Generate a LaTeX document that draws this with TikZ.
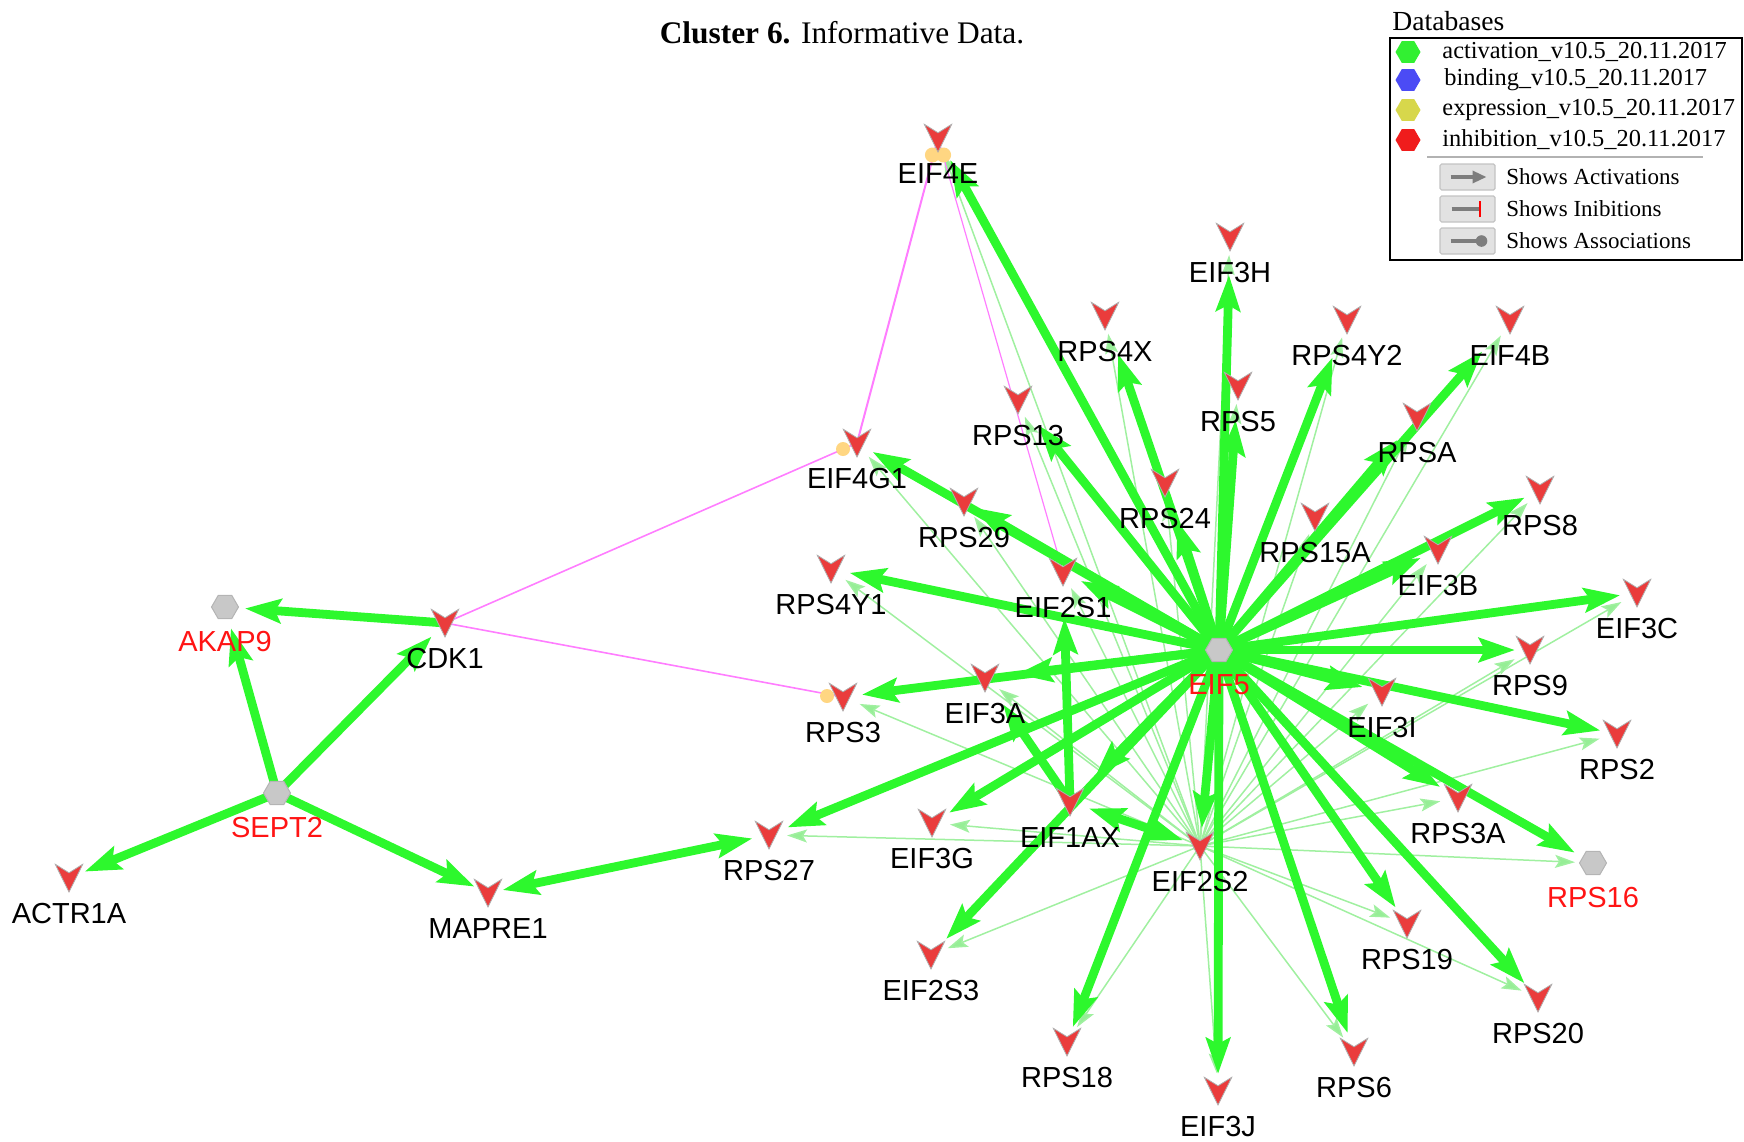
\documentclass[tikz,border=0pt]{standalone}
\usepackage{fontspec}
\setmainfont{Liberation Serif}
\newfontfamily\arialf{Liberation Sans}
\usetikzlibrary{shapes.geometric,arrows.meta}
\definecolor{thickg}{RGB}{45,248,45}
\definecolor{thing}{RGB}{160,240,160}
\definecolor{thinhead}{RGB}{150,238,150}
\definecolor{chevred}{RGB}{234,60,60}
\definecolor{chevline}{RGB}{175,175,175}
\definecolor{hexfill}{RGB}{200,200,200}
\definecolor{hexline}{RGB}{180,180,180}
\definecolor{pinkl}{RGB}{255,125,255}
\definecolor{orangedot}{RGB}{255,214,130}
\definecolor{lblred}{RGB}{255,20,20}
\definecolor{lgreen}{RGB}{50,240,50}
\definecolor{lblue}{RGB}{75,75,245}
\definecolor{lyellow}{RGB}{215,215,75}
\definecolor{lred}{RGB}{240,28,28}
\definecolor{iconfill}{RGB}{226,226,226}
\definecolor{iconline}{RGB}{195,195,195}
\definecolor{icongray}{RGB}{125,125,125}
\pgfdeclarelayer{edges}
\pgfsetlayers{edges,main}
\begin{document}
\begin{tikzpicture}[x=0.5pt,y=-0.5pt,
  lbl/.style={font=\arialf\fontsize{14.5}{16}\selectfont, inner sep=0pt, anchor=center, label distance=10.5pt},
  gene/.style={rectangle, inner sep=0pt, minimum width=14.4pt, minimum height=14.4pt,
     path picture={\fill[chevred, draw=chevline, line width=0.4pt]
        ([shift={(-6.9pt,6.9pt)}]path picture bounding box.center) --
        ([shift={(0pt,2.6pt)}]path picture bounding box.center) --
        ([shift={(6.9pt,6.9pt)}]path picture bounding box.center) --
        ([shift={(0pt,-7pt)}]path picture bounding box.center) -- cycle;},
     label={[lbl]below:#1}},
  hub/.style={regular polygon, regular polygon sides=6, minimum size=13.5pt, inner sep=0pt,
     fill=hexfill, draw=hexline, line width=0.5pt,
     label={[lbl, text=lblred, label distance=11pt]below:#1}},
  thickedge/.style={draw=thickg, line width=4.4pt, -{Stealth[length=18pt,width=12pt,inset=3pt]}, shorten >=#1},
  thickedge/.default=10pt,
  bothedge/.style={draw=thickg, line width=4.4pt, {Stealth[length=18pt,width=12pt,inset=3pt]}-{Stealth[length=18pt,width=12pt,inset=3pt]}},
  thinedge/.style={draw=thing, line width=0.75pt, -{Stealth[length=10pt,width=6.5pt,inset=2pt,fill=thinhead]}, shorten >=#1},
  thinedge/.default=9pt,
  pinkedge/.style={draw=pinkl, line width=#1},
  pinkedge/.default=1pt,
  assoc/.style={circle, fill=orangedot, inner sep=0pt, minimum size=#1},
  assoc/.default=7pt,
  leghex/.style={regular polygon, regular polygon sides=6, minimum size=12.5pt, inner sep=0pt, draw=none},
  legtext/.style={anchor=west, inner sep=0pt, font=\fontsize{12.2}{14}\selectfont},
  showtext/.style={anchor=west, inner sep=0pt, font=\fontsize{11.5}{13}\selectfont},
  iconbox/.style={rectangle, fill=iconfill, draw=iconline, line width=0.6pt, minimum width=27.5pt, minimum height=13pt, inner sep=0pt, rounded corners=0.8pt},
  legicon/.style={draw=icongray, line width=1.6pt}
]
\useasboundingbox (0,0) rectangle (1744,1141);

% ---------- title ----------
\node[font=\fontsize{15.7}{18}\selectfont, inner sep=0pt] (title) at (842,33) {\textbf{Cluster 6.} Informative Data.};

% ---------- hubs ----------
\node[hub=EIF5] (EIF5) at (1219,650) {};
\node[hub=AKAP9] (AKAP9) at (225,607) {};
\node[hub=SEPT2] (SEPT2) at (277,793) {};
\node[hub=RPS16] (RPS16) at (1593,863) {};

% ---------- genes ----------
\node[gene=EIF4E] (EIF4E) at (938,138) {};
\node[gene=EIF3H] (EIF3H) at (1230,237) {};
\node[gene=RPS4X] (RPS4X) at (1105,316) {};
\node[gene=RPS4Y2] (RPS4Y2) at (1347,320) {};
\node[gene=EIF4B] (EIF4B) at (1510,320) {};
\node[gene=RPS5] (RPS5) at (1238,386) {};
\node[gene=RPS13] (RPS13) at (1018,400) {};
\node[gene=RPSA] (RPSA) at (1417,417) {};
\node[gene=EIF4G1] (EIF4G1) at (857,443) {};
\node[gene=RPS24] (RPS24) at (1165,483) {};
\node[gene=RPS29] (RPS29) at (964,502) {};
\node[gene=RPS8] (RPS8) at (1540,490) {};
\node[gene=RPS15A] (RPS15A) at (1315,517) {};
\node[gene=EIF3B] (EIF3B) at (1438,550) {};
\node[gene=RPS4Y1] (RPS4Y1) at (831,569) {};
\node[gene=EIF2S1] (EIF2S1) at (1063,572) {};
\node[gene=EIF3C] (EIF3C) at (1637,593) {};
\node[gene=CDK1] (CDK1) at (445,623) {};
\node[gene=RPS9] (RPS9) at (1530,650) {};
\node[gene=EIF3A] (EIF3A) at (985,678) {};
\node[gene=RPS3] (RPS3) at (843,697) {};
\node[gene=EIF3I] (EIF3I) at (1382,692) {};
\node[gene=RPS2] (RPS2) at (1617,734) {};
\node[gene=EIF1AX] (EIF1AX) at (1070,802) {};
\node[gene=RPS3A] (RPS3A) at (1458,798) {};
\node[gene=EIF3G] (EIF3G) at (932,823) {};
\node[gene=RPS27] (RPS27) at (769,835) {};
\node[gene=EIF2S2] (EIF2S2) at (1200,846) {};
\node[gene=ACTR1A] (ACTR1A) at (69,878) {};
\node[gene=MAPRE1] (MAPRE1) at (488,893) {};
\node[gene=RPS19] (RPS19) at (1407,924) {};
\node[gene=EIF2S3] (EIF2S3) at (931,955) {};
\node[gene=RPS20] (RPS20) at (1538,998) {};
\node[gene=RPS18] (RPS18) at (1067,1042) {};
\node[gene=RPS6] (RPS6) at (1354,1052) {};
\node[gene=EIF3J] (EIF3J) at (1218,1091) {};

\begin{pgfonlayer}{edges}
% thin edges fanning out of EIF2S2
\foreach \t in {EIF4E,EIF3H,RPS4X,RPS4Y2,EIF4B,RPS5,RPS13,RPSA,EIF4G1,RPS24,RPS29,RPS8,RPS15A,EIF3B,RPS4Y1,EIF2S1,EIF3C,RPS9,EIF3A,RPS3,EIF3I,RPS2,RPS3A,EIF3G,RPS27,RPS19,EIF2S3,RPS20,RPS18,RPS6,EIF3J,RPS16}
  \draw[thinedge] (EIF2S2.center) -- (\t.center);

% pink association lines
\draw[pinkedge] (EIF4E.center) -- (EIF4G1.center);
\draw[pinkedge=0.6pt] (EIF4E.center) -- (EIF2S1.center);
\draw[pinkedge=0.8pt] (CDK1.center) -- (EIF4G1.center);
\draw[pinkedge=0.8pt] (CDK1.center) -- (RPS3.center);

% thick edges from EIF5
\draw[thickedge=12.5pt] (EIF5.center) -- (EIF4E.center);
\draw[thickedge=19pt] (EIF5.center) -- (EIF3H.center);
\draw[thickedge=20pt] (EIF5.center) -- (RPS4X.center);
\draw[thickedge=20pt] (EIF5.center) -- (RPS4Y2.center);
\draw[thickedge=21pt] (EIF5.center) -- (EIF4B.center);
\draw[thickedge=17pt] (EIF5.center) -- (RPS5.center);
\draw[thickedge=16pt] (EIF5.center) -- (RPS13.center);
\draw[thickedge=15pt] (EIF5.center) -- (RPSA.center);
\draw[thickedge=20pt] (EIF5.center) -- (RPS24.center);
\draw[thickedge=8.5pt] (EIF5.center) -- (RPS8.center);
\draw[thickedge=9.5pt] (EIF5.center) -- (EIF3B.center);
\draw[thickedge=8.5pt] (EIF5.center) -- (EIF3C.center);
\draw[thickedge=7.5pt] (EIF5.center) -- (RPS9.center);
\draw[thickedge=10pt] (EIF5.center) -- (EIF3I.center);
\draw[thickedge=8.5pt] (EIF5.center) -- (RPS2.center);
\draw[thickedge=10.5pt] (EIF5.center) -- (RPS3A.center);
\draw[thickedge=10.5pt] (EIF5.center) -- (RPS16.center);
\draw[thickedge=10pt] (EIF5.center) -- (RPS20.center);
\draw[thickedge=10pt] (EIF5.center) -- (RPS19.center);
\draw[thickedge=10pt] (EIF5.center) -- (RPS6.center);
\draw[thickedge=8.5pt] (EIF5.center) -- (EIF3J.center);
\draw[thickedge=8pt] (EIF5.center) -- (RPS18.center);
\draw[thickedge=9pt] (EIF5.center) -- (EIF2S2.center);
\draw[thickedge=11pt] (EIF5.center) -- (EIF2S3.center);
\draw[thickedge=18pt] (EIF5.center) -- (EIF1AX.center);
\draw[thickedge=10pt] (EIF5.center) -- (EIF3G.center);
\draw[thickedge=10pt] (EIF5.center) -- (RPS27.center);
\draw[thickedge=16pt] (EIF5.center) -- (EIF3A.center);
\draw[thickedge=9.5pt] (EIF5.center) -- (RPS3.center);
\draw[thickedge=9.5pt] (EIF5.center) -- (RPS4Y1.center);
\draw[thickedge=10pt] (EIF5.center) -- (EIF2S1.center);
\draw[thickedge=9pt] (EIF5.center) -- (EIF4G1.center);
\draw[thickedge=5.5pt] (EIF5.center) -- (RPS29.center);
% other thick edges
\draw[thickedge=23pt] (EIF1AX.center) -- (EIF2S1.center);
\draw[thickedge=16pt] (EIF1AX.center) -- (EIF3A.center);
\draw[bothedge, shorten <=10pt, shorten >=9pt] (EIF1AX.center) -- (EIF2S2.center);
\draw[thickedge=10pt] (CDK1.center) -- (AKAP9.center);
\draw[thickedge=11pt] (SEPT2.center) -- (AKAP9.center);
\draw[thickedge=9.5pt] (SEPT2.center) -- (CDK1.center);
\draw[thickedge=8.5pt] (SEPT2.center) -- (ACTR1A.center);
\draw[thickedge=7.5pt] (SEPT2.center) -- (MAPRE1.center);
\draw[bothedge, shorten <=8.5pt, shorten >=7.5pt] (RPS27.center) -- (MAPRE1.center);

% association ends
\node[assoc=7.5pt] (dotE1) at ([shift={(-2.8pt,-8.5pt)}]EIF4E.center) {};
\node[assoc=7.5pt] (dotE2) at ([shift={(2.8pt,-8.5pt)}]EIF4E.center) {};
\node[assoc] (dotG1) at ([shift={(-7pt,-3pt)}]EIF4G1.center) {};
\node[assoc] (dotR3) at ([shift={(-8pt,0.5pt)}]RPS3.center) {};
\end{pgfonlayer}

% ---------- legend ----------
\node[font=\fontsize{13.8}{15}\selectfont, anchor=west, inner sep=0pt] (dbtitle) at (1392,21) {Databases};
\draw[black, line width=0.6pt] (1390,38) rectangle (1742,260);
\node[leghex, fill=lgreen] (lg1) at (1408,52) {};
\node[leghex, fill=lblue] (lg2) at (1408,80) {};
\node[leghex, fill=lyellow] (lg3) at (1408,110) {};
\node[leghex, fill=lred] (lg4) at (1408,140) {};
\node[legtext] (lt1) at (1442,52) {activation\_v10.5\_20.11.2017};
\node[legtext] (lt2) at (1444,80) {binding\_v10.5\_20.11.2017};
\node[legtext] (lt3) at (1442,110) {expression\_v10.5\_20.11.2017};
\node[legtext] (lt4) at (1442,140) {inhibition\_v10.5\_20.11.2017};
\draw[gray!60, line width=0.8pt] (1427,157) -- (1703,157);
\node[iconbox] (ib1) at (1467.5,177) {};
\node[iconbox] (ib2) at (1467.5,209) {};
\node[iconbox] (ib3) at (1467.5,241) {};
\draw[legicon, -{Triangle[length=7pt,width=6pt]}] ([xshift=-8.5pt]ib1.center) -- ([xshift=9.5pt]ib1.center);
\draw[legicon] ([xshift=-8pt]ib2.center) -- ([xshift=6pt]ib2.center);
\draw[red, line width=1.3pt] ([shift={(6.3pt,-4pt)}]ib2.center) -- ([shift={(6.3pt,4pt)}]ib2.center);
\draw[legicon] ([xshift=-8.5pt]ib3.center) -- ([xshift=6pt]ib3.center);
\fill[icongray] ([xshift=7pt]ib3.center) circle (2.9pt);
\node[showtext] (st1) at (1506,177) {Shows Activations};
\node[showtext] (st2) at (1506,209) {Shows Inibitions};
\node[showtext] (st3) at (1506,241) {Shows Associations};
\end{tikzpicture}
\end{document}
